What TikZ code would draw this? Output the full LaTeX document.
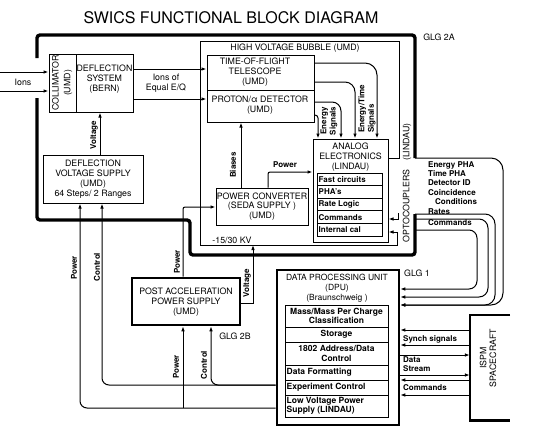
\documentclass[tikz,border=0pt]{standalone}
\usepackage{fontspec}
\setmainfont{TeX Gyre Heros}
\usetikzlibrary{arrows.meta}
\begin{document}
\begin{tikzpicture}[x=1pt,y=-1pt,
  ln/.style={line width=1pt},
  arr/.style={ln,-{Latex[length=5pt,width=3.6pt]}},
  bx/.style={draw,ln,inner sep=0,rectangle},
  tbx/.style={draw,line width=2.6pt,inner sep=0,rectangle},
  glg/.style={line width=3.4pt,rounded corners=3pt},
  lbl/.style={font=\fontsize{8.8}{9.8}\selectfont,align=center,inner sep=0},
  dlbl/.style={font=\fontsize{8.5}{10}\selectfont,align=center,inner sep=0},
  blbl/.style={font=\bfseries\fontsize{8}{9.4}\selectfont,align=left,inner sep=0},
  drl/.style={font=\bfseries\fontsize{8.5}{9.6}\selectfont,inner sep=0},
  arow/.style={draw,ln,inner sep=0,minimum width=65pt,minimum height=12.6pt},
  drow/.style={draw,ln,inner sep=0,minimum width=103pt}
]
\useasboundingbox (0,0) rectangle (544,432);

% title
\node[font=\fontsize{16}{18}\selectfont,inner sep=0] (title) at (231,18) {SWICS FUNCTIONAL BLOCK DIAGRAM};

% GLG 2A thick boundary
\draw[glg] (37,58) -- (37,35) -- (415,35) -- (415,158);
\draw[glg] (415,214) -- (415,255) -- (190,255) -- (190,220) -- (37,220) -- (37,98);

% boxes
\node[bx,minimum width=27pt,minimum height=58pt] (coll) at (62.5,83) {};
\node[bx,minimum width=57pt,minimum height=58pt] (defl) at (104.5,83) {};
\node[bx,minimum width=100pt,minimum height=48pt] (dvs) at (93,179) {};
\node[bx,minimum width=107pt,minimum height=35pt] (tof) at (260.5,72.5) {};
\node[bx,minimum width=107pt,minimum height=32pt] (pad) at (260.5,106) {};
\node[bx,minimum width=75pt,minimum height=103pt] (ana) at (350.5,190.5) {};
\node[arow] (a1) at (349.5,179.3) {};
\node[arow] (a2) at (349.5,191.9) {};
\node[arow] (a3) at (349.5,204.5) {};
\node[arow] (a4) at (349.5,217.1) {};
\node[arow] (a5) at (349.5,229.7) {};
\node[bx,minimum width=92pt,minimum height=37pt] (pc) at (262,206.5) {};
\node[tbx,minimum width=108pt,minimum height=47pt] (pa) at (186,301.5) {};
\node[tbx,minimum width=122pt,minimum height=155pt] (dpu) at (338,347.5) {};
\node[drow,minimum height=22pt] (d1) at (336.5,316) {};
\node[drow,minimum height=15pt] (d2) at (336.5,334.5) {};
\node[drow,minimum height=23pt] (d3) at (336.5,353.5) {};
\node[drow,minimum height=15pt] (d4) at (336.5,372.5) {};
\node[drow,minimum height=15pt] (d5) at (336.5,387.5) {};
\node[drow,minimum height=22pt] (d6) at (336.5,406) {};
\node[minimum width=40pt,minimum height=105pt,inner sep=0] (sc) at (490,367.5) {};
\draw[line width=2.6pt] (sc.north east) -- (sc.north west) -- (sc.south west) -- (sc.south east);

% high voltage bubble (with command arrow into analog electronics)
\draw[arr] (ana.east |- 0,158) -- (399,158) -- (399,41) -- (200,41) -- (200,245) -- (397,245) -- (397,232) -- (ana.east |- 0,232);
\draw[arr] (398,213) -- (398,219) -- (ana.east |- 0,219);

% ions
\coordinate (ion1) at (0,72);
\coordinate (ion2) at (0,91);
\draw[arr] (ion1) -- (coll.west |- ion1);
\draw[arr] (ion2) -- (coll.west |- ion2);
\draw[arr] (defl.east |- 0,69) -- (tof.west |- 0,69);
\draw[arr] (defl.east |- 0,99) -- (pad.west |- 0,99);

% signals
\draw[arr,rounded corners=12pt] (tof.east |- 0,63) -| (ana.north -| 377,0);
\draw[arr,rounded corners=10pt] (tof.east |- 0,82) -| (ana.north -| 355,0);
\draw[arr,rounded corners=9pt] (pad.east |- 0,102) -| (ana.north -| 341,0);
\draw[arr,rounded corners=3pt] (pad.east |- 0,115) -| (ana.north -| 318,0);

% power converter links
\draw[arr] (pc.north -| 241,0) -- (pad.south -| 241,0);
\draw[arr,rounded corners=2pt] (pc.north -| 268,0) |- (ana.west |- 0,172);
\draw[arr,rounded corners=2pt] (pa.north -| 183,0) |- (pc.west |- 0,207);
\draw[arr] (dvs.north -| 100,0) -- (defl.south -| 100,0);

% post acceleration voltage tab
\coordinate (vt) at (253,303);
\draw[arr] (pa.east |- vt) -- (vt) -- (vt |- 0,245);

% power / control from DPU
\draw[arr,rounded corners=7pt] (dpu.west |- 0,385) -| (dvs.south -| 102,0);
\draw[arr,rounded corners=7pt] (dpu.west |- 0,385) -| (pa.south -| 211,0);
\draw[arr,rounded corners=7pt] (dpu.west |- 0,408) -| (dvs.south -| 80,0);
\draw[arr] (183,408) -- (pa.south -| 183,0);

% spacecraft links
\draw[arr] (sc.west |- 0,330) -- (dpu.east |- 0,330);
\draw[arr] (sc.west |- 0,345) -- (dpu.east |- 0,345);
\draw[arr] (dpu.east |- 0,355) -- (sc.west |- 0,355);
\draw[arr] (dpu.east |- 0,375) -- (sc.west |- 0,375);
\draw[arr] (sc.west |- 0,380) -- (dpu.east |- 0,380);
\draw[arr] (sc.west |- 0,395) -- (dpu.east |- 0,395);

% optocoupler lines to DPU
\draw[arr,rounded corners=12pt] (415,158) -- (503,158) -- (503,305) -- (dpu.east |- 0,305);
\draw[arr,rounded corners=10pt] (415,214) -- (495,214) -- (495,305) -- (dpu.east |- 0,305);
\draw[arr,rounded corners=9pt] (415,219) -- (488,219) -- (488,297) -- (dpu.east |- 0,297);
\draw[arr,rounded corners=8pt] (415,230) -- (477,230) -- (477,289) -- (dpu.east |- 0,289);

% labels
\node[lbl] at (23,82) {Ions};
\node[lbl,rotate=90] at (55.5,83) {COLLIMATOR};
\node[lbl,rotate=90] at (68,83) {(UMD)};
\node[lbl] at (104.5,79) {DEFLECTION\\SYSTEM\\(BERN)};
\node[lbl] at (166,83) {Ions of\\Equal E/Q};
\node[lbl] at (295,48) {HIGH VOLTAGE BUBBLE (UMD)};
\node[lbl] at (255,72) {TIME-OF-FLIGHT\\TELESCOPE\\(UMD)};
\node[lbl] at (260,105) {PROTON/α DETECTOR\\(UMD)};
\node[blbl,rotate=90,align=center] at (329,121) {Energy\\Signals};
\node[blbl,rotate=90,anchor=west,align=left] at (367,133) {Energy/Time\\Signals};
\node[lbl] at (350.5,157) {ANALOG\\ELECTRONICS\\(LINDAU)};
\node[blbl,anchor=west] at ([xshift=2pt]a1.west) {Fast circuits};
\node[blbl,anchor=west] at ([xshift=2pt]a2.west) {PHA's};
\node[blbl,anchor=west] at ([xshift=2pt]a3.west) {Rate Logic};
\node[blbl,anchor=west] at ([xshift=2pt]a4.west) {Commands};
\node[blbl,anchor=west] at ([xshift=2pt]a5.west) {Internal cal};
\node[lbl] at (262,206.5) {POWER CONVERTER\\(SEDA SUPPLY )\\(UMD)};
\node[blbl] at (285,165) {Power};
\node[blbl,rotate=90] at (233,165) {Biases};
\node[blbl,rotate=90] at (94,135) {Voltage};
\node[lbl] at (93,179) {DEFLECTION\\VOLTAGE SUPPLY\\(UMD)\\64 Steps/ 2 Ranges};
\node[lbl] at (232,240) {-15/30 KV};
\node[lbl] at (439,37) {GLG 2A};
\node[lbl,rotate=90] at (407,183) {OPTOCOUPLERS\quad(LINDAU)};
\node[blbl,anchor=north west] at (428,161) {Energy PHA\\Time PHA\\Detector ID\\Coincidence\\\hspace*{7pt}Conditions\\Rates};
\node[blbl,anchor=west] at (428,223) {Commands};
\node[lbl] at (186,302) {POST ACCELERATION\\POWER SUPPLY\\(UMD)};
\node[blbl,rotate=90] at (247,283) {Voltage};
\node[blbl,rotate=90] at (177,262) {Power};
\node[blbl,rotate=90] at (74,268) {Power};
\node[blbl,rotate=90] at (97,267) {Control};
\node[blbl,rotate=90] at (176,367) {Power};
\node[blbl,rotate=90] at (204,365) {Control};
\node[lbl] at (235,336) {GLG 2B};
\node[lbl] at (417,273) {GLG 1};
\node[dlbl] at (337,288) {DATA PROCESSING UNIT\\(DPU)\\(Braunschweig )};
\node[drl,align=center] at (d1) {Mass/Mass Per Charge\\Classification};
\node[drl] at (d2) {Storage};
\node[drl,align=center] at (d3) {1802 Address/Data\\Control};
\node[drl,anchor=west] at ([xshift=2pt]d4.west) {Data Formatting};
\node[drl,anchor=west] at ([xshift=2pt]d5.west) {Experiment Control};
\node[drl,anchor=west,align=left] at ([xshift=2pt]d6.west) {Low Voltage Power\\Supply (LINDAU)};
\node[lbl,rotate=90] at (488,358) {ISPM\\SPACECRAFT};
\node[blbl,anchor=west] at (403,339) {Synch signals};
\node[blbl,anchor=west,align=left] at (403,364) {Data\\Stream};
\node[blbl,anchor=west] at (403,388) {Commands};
\end{tikzpicture}
\end{document}
